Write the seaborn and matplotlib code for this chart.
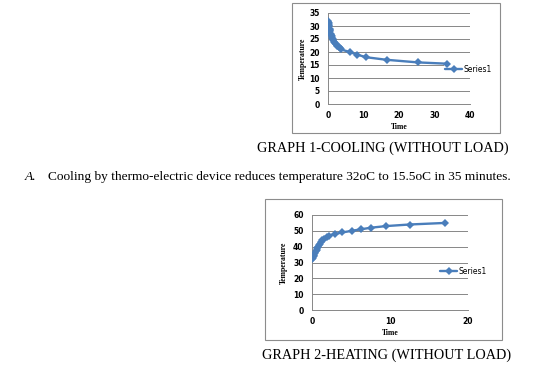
import numpy as np
import pandas as pd
import matplotlib
matplotlib.use("Agg")
import matplotlib.pyplot as plt
import seaborn as sns
from matplotlib.patches import Rectangle

# datos (tiempo en minutos, temperatura)
cool_time = [0, 0.1, 0.2, 0.3, 0.4, 0.5, 0.6, 0.7, 0.8, 0.9, 1.0, 1.1, 1.3, 1.5,
             1.7, 2.0, 2.3, 2.6, 3.0, 3.3, 3.6, 6.1, 8.2, 10.7, 16.5, 25.3, 33.5]
cool_temp = [32, 31.5, 31, 30.5, 30, 29, 28.5, 28, 27, 26.5, 26, 25.5, 25, 24.5,
             24, 23.5, 23, 22.5, 22, 21.5, 21, 20, 19, 18, 17, 16, 15.5]

heat_time = [0, 0.1, 0.2, 0.3, 0.4, 0.5, 0.6, 0.7, 0.8, 0.9, 1.0, 1.1, 1.3, 1.5,
             1.9, 2.2, 2.9, 3.9, 5.1, 6.3, 7.6, 9.5, 12.5, 17.1]
heat_temp = [32, 33, 34, 35, 36, 37, 38, 39, 40, 41, 42, 43, 44, 45,
             46, 47, 48, 49, 50, 51, 52, 53, 54, 55]

cool_xticks = [0, 10, 20, 30, 40]
cool_yticks = [0, 5, 10, 15, 20, 25, 30, 35]
heat_xticks = [0, 10, 20]
heat_yticks = [0, 10, 20, 30, 40, 50, 60]

W, H = 555, 369
BLUE = "#4A7EBB"
GRID = "#878787"
TICKFONT = "DejaVu Sans"
SERIF = "Liberation Serif"


def fx(px):
    return px / W


def fy(py):
    return 1 - py / H


def caja(fig, x0, y0, x1, y1):
    fig.patches.append(Rectangle((fx(x0), fy(y1)), fx(x1 - x0), (y1 - y0) / H,
                                 transform=fig.transFigure, fill=False,
                                 edgecolor="#8c8c8c", linewidth=0.8))


def grafico(fig, data, area, xticks, yticks, leg_pos, ylab_x, xlab_y):
    left, top, right, bottom = area
    ax = fig.add_axes([fx(left), fy(bottom), fx(right - left), (bottom - top) / H])
    sns.lineplot(data=data, x="Time", y="Temperature", ax=ax, color=BLUE,
                 marker="D", markersize=4.2, markeredgewidth=0, linewidth=1.7,
                 sort=False, label="Series1", zorder=3)
    ax.set_xlim(xticks[0], xticks[-1])
    ax.set_ylim(yticks[0], yticks[-1])
    ax.set_xticks(xticks)
    ax.set_yticks(yticks)
    ax.grid(axis="y", color=GRID, linewidth=0.7)
    ax.grid(axis="x", visible=False)
    ax.set_axisbelow(True)
    for s in ["top", "right"]:
        ax.spines[s].set_visible(False)
    for s in ["left", "bottom"]:
        ax.spines[s].set_color(GRID)
        ax.spines[s].set_linewidth(0.7)
    ax.tick_params(axis="both", length=3, width=0.7, color=GRID, labelsize=5.5,
                   pad=3, labelcolor="black")
    ax.tick_params(axis="x", length=0, pad=5)
    for lab in ax.get_xticklabels() + ax.get_yticklabels():
        lab.set_fontfamily(TICKFONT)
        lab.set_fontweight("bold")
    ax.set_xlabel("")
    ax.set_ylabel("")
    # etiquetas de ejes como texto de figura
    fig.text(fx(ylab_x), fy((top + bottom) / 2), "Temperature", rotation=90,
             ha="center", va="center", fontsize=5.5, fontweight="bold",
             family=SERIF, color="black")
    fig.text(fx((left + right) / 2), fy(xlab_y), "Time", ha="center",
             va="center", fontsize=5.5, fontweight="bold", family=SERIF,
             color="black")
    leg = ax.legend(loc="center left", bbox_to_anchor=(fx(leg_pos[0]), fy(leg_pos[1])),
                    bbox_transform=fig.transFigure, frameon=True, fancybox=False,
                    edgecolor="none", framealpha=1, handlelength=2.3,
                    handletextpad=0.1, borderpad=0.1, borderaxespad=0,
                    prop={"family": TICKFONT, "size": 5.5})
    leg.set_zorder(2)
    return ax


def main():
    sns.set_style("white")
    plt.rcParams["font.family"] = ["DejaVu Sans"]
    plt.rcParams["text.color"] = "black"

    fig = plt.figure(figsize=(W / 100, H / 100), dpi=100)
    fig.patch.set_facecolor("white")

    df_cool = pd.DataFrame({"Time": cool_time, "Temperature": cool_temp})
    df_heat = pd.DataFrame({"Time": heat_time, "Temperature": heat_temp})

    # grafico 1: enfriamiento
    caja(fig, 292, 3, 500, 133)
    grafico(fig, df_cool, (328, 13, 470, 104), cool_xticks, cool_yticks,
            (444, 69), 303, 127)

    # grafico 2: calentamiento
    caja(fig, 265, 199, 502, 340)
    grafico(fig, df_heat, (312, 215, 468, 310), heat_xticks, heat_yticks,
            (439, 271), 284, 333)

    fig.text(fx(257), fy(148), "GRAPH 1-COOLING (WITHOUT LOAD)", ha="left",
             va="center", fontsize=10.3, family=SERIF, color="black")
    fig.text(fx(25), fy(177), "A.", ha="left", va="center", fontsize=9.7,
             family=SERIF, style="italic", color="black")
    fig.text(fx(48), fy(177),
             "Cooling by thermo-electric device reduces temperature 32oC to 15.5oC in 35 minutes.",
             ha="left", va="center", fontsize=9.65, family=SERIF, color="black")
    fig.text(fx(262), fy(355), "GRAPH 2-HEATING (WITHOUT LOAD)", ha="left",
             va="center", fontsize=10.3, family=SERIF, color="black")

    fig.savefig("out.png", dpi=100)


if __name__ == "__main__":
    main()
